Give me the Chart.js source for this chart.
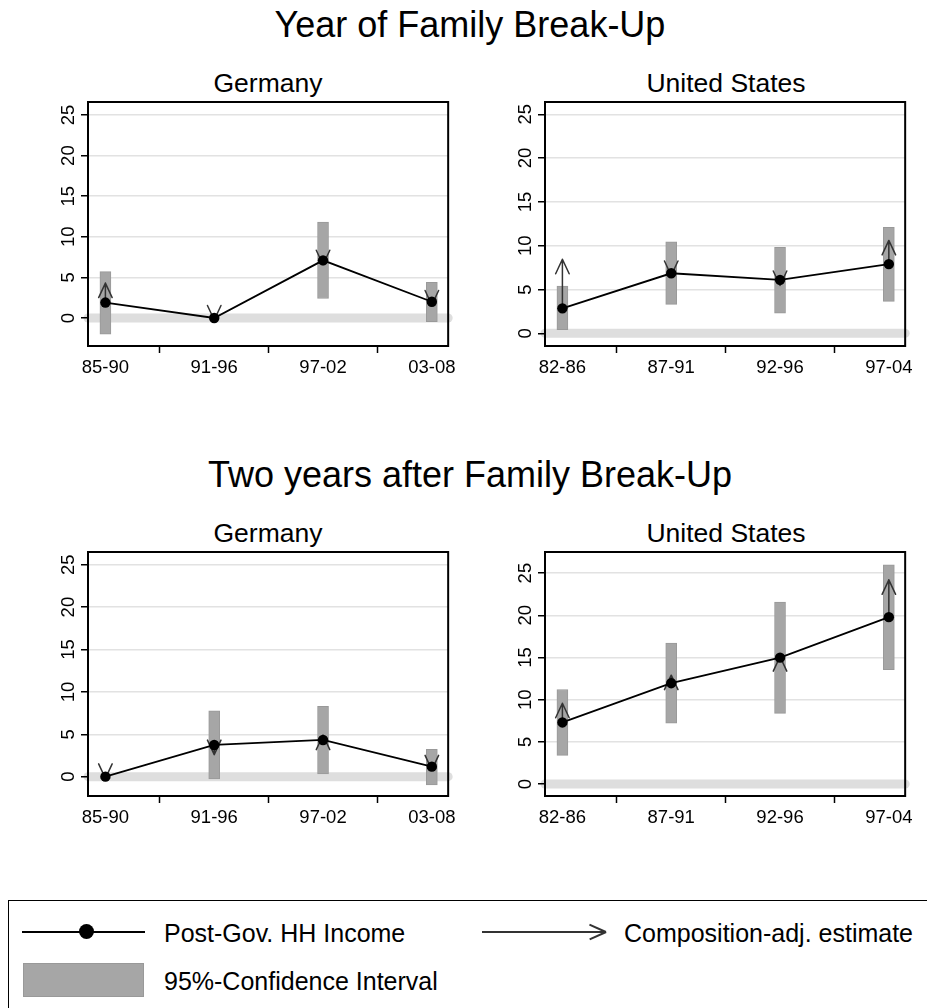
<!DOCTYPE html>
<html>
<head>
<meta charset="utf-8">
<title>Family break-up: post-government household income</title>
<script src="https://cdn.jsdelivr.net/npm/chart.js@4.4.1/dist/chart.umd.min.js"></script>
<style>
    body { margin: 0; background: #fff; font-family: "Liberation Sans", Arial, sans-serif; color: #000; }
    #page { position: relative; width: 927px; height: 1008px; overflow: hidden; }
    .main-title { position: absolute; left: 0; width: 940px; text-align: center; font-size: 36px; line-height: 36px; white-space: nowrap; }
    .panel-title { position: absolute; width: 300px; text-align: center; font-size: 26.5px; line-height: 26.5px; white-space: nowrap; }
    canvas.panel { position: absolute; }
    #legend { position: absolute; left: 8px; top: 900px; width: 1000px; height: 200px; border: 1.5px solid #000; box-sizing: border-box; }
    .lg-text { position: absolute; font-size: 25px; line-height: 25px; white-space: nowrap; }
    .lg { position: absolute; }
</style>
</head>
<body>
<div id="page">
    <div class="main-title" style="top: 7px;">Year of Family Break-Up</div>
    <div class="main-title" style="top: 457px;">Two years after Family Break-Up</div>

    <div class="panel-title" style="left: 118px; top: 70px;">Germany</div>
    <div class="panel-title" style="left: 576px; top: 70px;">United States</div>
    <div class="panel-title" style="left: 118px; top: 520px;">Germany</div>
    <div class="panel-title" style="left: 576px; top: 520px;">United States</div>

    <canvas class="panel" id="de-year" width="430" height="290" style="left: 30px; top: 95px;"></canvas>
    <canvas class="panel" id="us-year" width="430" height="290" style="left: 487px; top: 95px;"></canvas>
    <canvas class="panel" id="de-two" width="430" height="290" style="left: 30px; top: 545px;"></canvas>
    <canvas class="panel" id="us-two" width="430" height="290" style="left: 487px; top: 545px;"></canvas>

    <div id="legend"></div>
    <!-- legend samples -->
    <div class="lg" style="left: 22px; top: 930.5px; width: 123px; height: 2px; background: #000;"></div>
    <div class="lg" style="left: 78.5px; top: 924px; width: 15px; height: 15px; border-radius: 50%; background: #000;"></div>
    <div class="lg-text" style="left: 164px; top: 921px;">Post-Gov. HH Income</div>

    <div class="lg" style="left: 482px; top: 931px; width: 122px; height: 1.5px; background: #333;"></div>
    <div class="lg" style="left: 588px; top: 931px; width: 18px; height: 1.5px; background: #333; transform-origin: 100% 50%; transform: rotate(24deg);"></div>
    <div class="lg" style="left: 588px; top: 931px; width: 18px; height: 1.5px; background: #333; transform-origin: 100% 50%; transform: rotate(-24deg);"></div>
    <div class="lg-text" style="left: 624px; top: 921px;">Composition-adj. estimate</div>

    <div class="lg" style="left: 23px; top: 963px; width: 121px; height: 34px; background: #a6a6a6; border: 1px solid #999; box-sizing: border-box;"></div>
    <div class="lg-text" style="left: 164px; top: 969px;">95%-Confidence Interval</div>
</div>

<script>
// periods on the x axis
const germanyPeriods = ["85-90", "91-96", "97-02", "03-08"];
const usPeriods = ["82-86", "87-91", "92-96", "97-04"];
const yTickValues = [0, 5, 10, 15, 20, 25];

// Year of family break-up: Germany
const deYearEst = [1.9, 0.0, 7.1, 2.0];
const deYearLow = [-2.0, null, 2.4, -0.45];
const deYearHigh = [5.7, null, 11.8, 4.4];
const deYearAdj = [4.3, -0.25, 6.55, 1.6];
const deYearRange = [-3.45, 26.6];

// Year of family break-up: United States
const usYearEst = [2.85, 6.85, 6.1, 7.9];
const usYearLow = [0.4, 3.3, 2.3, 3.65];
const usYearHigh = [5.4, 10.45, 9.8, 12.1];
const usYearAdj = [8.45, 6.6, 5.45, 10.6];
const usYearRange = [-1.45, 26.4];

// Two years after: Germany
const deTwoEst = [0.0, 3.74, 4.33, 1.18];
const deTwoLow = [null, -0.27, 0.32, -0.98];
const deTwoHigh = [null, 7.76, 8.3, 3.23];
const deTwoAdj = [-0.2, 2.6, 4.9, 0.8];
const deTwoRange = [-2.28, 26.5];

// Two years after: United States
const usTwoEst = [7.3, 11.95, 14.98, 19.78];
const usTwoLow = [3.4, 7.2, 8.38, 13.56];
const usTwoHigh = [11.2, 16.7, 21.55, 25.97];
const usTwoAdj = [9.57, 12.9, 15.1, 24.2];
const usTwoRange = [-1.42, 27.5];

(function () {
    const FONT = '"Liberation Sans", Arial, sans-serif';

    /* thick light band at zero, drawn under the axes */
    const zeroBand = {
        id: "zeroBand",
        beforeDraw(chart) {
            const { ctx, chartArea } = chart;
            const y = chart.scales.y.getPixelForValue(0);
            ctx.save();
            ctx.strokeStyle = "#dedede";
            ctx.lineWidth = 9;
            ctx.lineCap = "round";
            ctx.beginPath();
            ctx.moveTo(chartArea.left, y);
            ctx.lineTo(chartArea.right, y);
            ctx.stroke();
            ctx.restore();
        },
    };

    /* composition-adjusted arrows, drawn right after the CI bars */
    const adjArrows = {
        id: "adjArrows",
        afterDatasetDraw(chart, args) {
            if (args.index !== 1) return;
            const { ctx } = chart;
            const xs = chart.scales.x;
            const ys = chart.scales.y;
            const est = chart.options.plugins.adjArrows.est;
            const adj = chart.options.plugins.adjArrows.adj;
            const armLen = 16;
            const ang = (25 * Math.PI) / 180;
            ctx.save();
            ctx.strokeStyle = "#333";
            ctx.lineWidth = 1.5;
            ctx.lineCap = "round";
            ctx.lineJoin = "round";
            for (let i = 0; i < est.length; i++) {
                const x = xs.getPixelForValue(i + 1);
                const y0 = ys.getPixelForValue(est[i]);
                const y1 = ys.getPixelForValue(adj[i]);
                const dir = y1 < y0 ? -1 : 1; // -1 = pointing up on screen
                ctx.beginPath();
                ctx.moveTo(x, y0);
                ctx.lineTo(x, y1);
                ctx.moveTo(x - armLen * Math.sin(ang), y1 - dir * armLen * Math.cos(ang));
                ctx.lineTo(x, y1);
                ctx.lineTo(x + armLen * Math.sin(ang), y1 - dir * armLen * Math.cos(ang));
                ctx.stroke();
            }
            ctx.restore();
        },
    };

    /* plot frame and rotated y tick labels */
    const frameAndLabels = {
        id: "frameAndLabels",
        afterDraw(chart) {
            const { ctx, chartArea } = chart;
            const ys = chart.scales.y;
            ctx.save();
            ctx.strokeStyle = "#000";
            ctx.lineWidth = 2;
            ctx.strokeRect(chartArea.left, chartArea.top, chartArea.right - chartArea.left, chartArea.bottom - chartArea.top);
            ctx.fillStyle = "#000";
            ctx.font = "18.5px " + FONT;
            ctx.textAlign = "center";
            ctx.textBaseline = "alphabetic";
            yTickValues.forEach((v) => {
                const y = ys.getPixelForValue(v);
                ctx.save();
                ctx.translate(chartArea.left - 14, y);
                ctx.rotate(-Math.PI / 2);
                ctx.fillText(String(v), 0, 0);
                ctx.restore();
            });
            ctx.restore();
        },
    };

    function makePanel(id, periods, est, low, high, adj, range) {
        const el = document.getElementById(id);
        const linePts = est.map((v, i) => ({ x: i + 1, y: v }));
        const ciBars = [];
        low.forEach((v, i) => {
            if (v != null) ciBars.push({ x: i + 1, y: [v, high[i]] });
        });

        new Chart(el, {
            type: "bar",
            data: {
                datasets: [
                    {
                        type: "line",
                        label: "Post-Gov. HH Income",
                        data: linePts,
                        borderColor: "#000",
                        borderWidth: 1.8,
                        pointRadius: 5.2,
                        pointBackgroundColor: "#000",
                        pointBorderWidth: 0,
                        tension: 0,
                        order: 0,
                    },
                    {
                        type: "bar",
                        label: "95%-Confidence Interval",
                        data: ciBars,
                        backgroundColor: "#a6a6a6",
                        borderColor: "#999",
                        borderWidth: 1,
                        borderSkipped: false,
                        barThickness: 11,
                        order: 1,
                    },
                ],
            },
            plugins: [zeroBand, adjArrows, frameAndLabels],
            options: {
                responsive: false,
                animation: false,
                layout: { padding: { top: 7, right: 11, left: 0, bottom: 0 } },
                plugins: {
                    legend: { display: false },
                    tooltip: { enabled: false },
                    adjArrows: { est, adj },
                },
                scales: {
                    x: {
                        type: "linear",
                        min: 0.84,
                        max: 4.15,
                        offset: false,
                        afterBuildTicks: (s) => {
                            s.ticks = periods.map((p, i) => ({ value: i + 1 }));
                        },
                        afterFit: (s) => {
                            s.height = 39;
                        },
                        ticks: {
                            autoSkip: false,
                            maxRotation: 0,
                            padding: 4,
                            color: "#000",
                            font: { size: 18.5, family: FONT },
                            callback: (v) => periods[Math.round(v) - 1],
                        },
                        grid: {
                            drawOnChartArea: false,
                            drawTicks: true,
                            tickLength: 7,
                            tickColor: "#000",
                            tickWidth: 1.5,
                        },
                        border: { display: false },
                    },
                    y: {
                        min: range[0],
                        max: range[1],
                        afterBuildTicks: (s) => {
                            s.ticks = yTickValues.map((v) => ({ value: v }));
                        },
                        afterFit: (s) => {
                            s.width = 58;
                        },
                        ticks: { display: false },
                        grid: {
                            color: (c) => (c.tick && c.tick.value === 0 ? "rgba(0,0,0,0)" : "#e2e2e2"),
                            lineWidth: 1.5,
                            drawTicks: true,
                            tickLength: 7,
                            tickColor: "#000",
                            tickWidth: 1.5,
                        },
                        border: { display: false },
                    },
                },
            },
        });
    }

    function init() {
        if (typeof Chart === "undefined") return;
        makePanel("de-year", germanyPeriods, deYearEst, deYearLow, deYearHigh, deYearAdj, deYearRange);
        makePanel("us-year", usPeriods, usYearEst, usYearLow, usYearHigh, usYearAdj, usYearRange);
        makePanel("de-two", germanyPeriods, deTwoEst, deTwoLow, deTwoHigh, deTwoAdj, deTwoRange);
        makePanel("us-two", usPeriods, usTwoEst, usTwoLow, usTwoHigh, usTwoAdj, usTwoRange);
    }

    if (document.readyState === "loading") {
        document.addEventListener("DOMContentLoaded", init);
    } else {
        init();
    }
})();
</script>
</body>
</html>
